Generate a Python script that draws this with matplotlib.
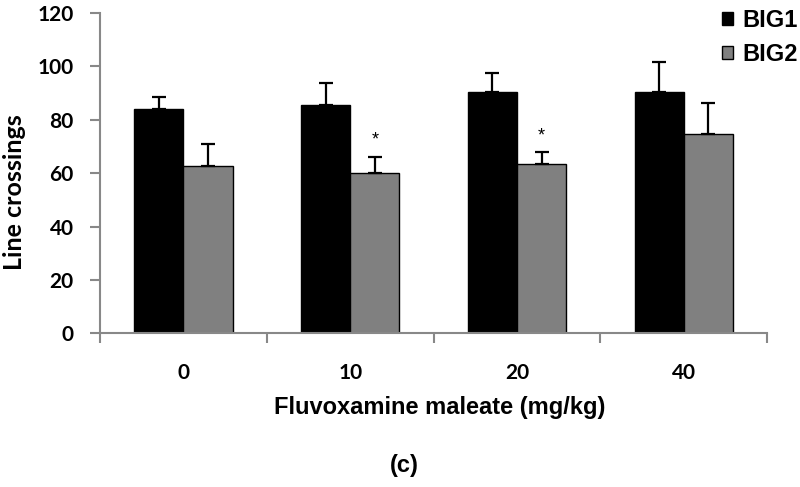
import matplotlib
matplotlib.use("Agg")
import matplotlib.pyplot as plt
import numpy as np

doses = ["0", "10", "20", "40"]
big1 = [84.0, 85.5, 90.3, 90.3]
big1_err = [4.7, 8.2, 7.1, 11.2]
big2 = [62.8, 60.0, 63.4, 74.6]
big2_err = [8.0, 6.2, 4.4, 11.8]
starred = [False, True, True, False]  # significance marks over BIG2

fig = plt.figure(figsize=(8, 4.87), dpi=100)
ax = fig.add_axes([0.125, 0.3154, 0.834, 0.658])

x = np.arange(len(doses))
w = 0.295
ax.bar(x - w / 2, big1, w, color="black", edgecolor="black", linewidth=1, label="BIG1")
ax.bar(x + w / 2, big2, w, color="#808080", edgecolor="black", linewidth=1, label="BIG2")
ax.errorbar(x - w / 2, big1, yerr=[np.zeros(4), big1_err], fmt="none", ecolor="black",
            elinewidth=1.6, capsize=5, capthick=1.6)
ax.errorbar(x + w / 2, big2, yerr=[np.zeros(4), big2_err], fmt="none", ecolor="black",
            elinewidth=1.6, capsize=5, capthick=1.6)

for i in range(len(doses)):
    if starred[i]:
        ax.text(x[i] + w / 2, big2[i] + big2_err[i] + 3, "*", ha="center", va="bottom",
                fontsize=13, family="Liberation Sans")

ax.set_xlim(-0.5, len(doses) - 0.5)
ax.set_ylim(0, 120)
ax.set_yticks(range(0, 121, 20))
ax.set_yticklabels([str(v) for v in range(0, 121, 20)], family="Lato", weight="bold", fontsize=15)

# category boundaries get the ticks, labels sit at the centres
ax.set_xticks(np.arange(-0.5, len(doses), 1))
ax.set_xticklabels([])
ax.set_xticks(x, minor=True)
ax.set_xticklabels(doses, minor=True, family="Lato", weight="bold", fontsize=15)
ax.tick_params(axis="x", which="minor", length=0, pad=21)
ax.tick_params(axis="x", which="major", length=7, width=1.5, color="#888888")
ax.tick_params(axis="y", length=7, width=1.5, color="#888888", pad=12)

for s in ["top", "right"]:
    ax.spines[s].set_visible(False)
for s in ["left", "bottom"]:
    ax.spines[s].set_color("#888888")
    ax.spines[s].set_linewidth(1.5)

ax.set_ylabel("Line crossings", family="Lato", weight="bold", fontsize=18)
ax.yaxis.set_label_coords(-0.111, 0.44)
fig.text(0.55, 0.163, "Fluvoxamine maleate (mg/kg)", ha="center", va="center",
         family=["Liberation Sans Narrow", "Liberation Sans"], weight="bold", fontsize=17)
fig.text(0.506, 0.045, "(c)", ha="center", va="center",
         family=["Liberation Sans Narrow", "Liberation Sans"], weight="bold", fontsize=17)

fig.legend(loc="upper left", bbox_to_anchor=(0.882, 1.015), frameon=False,
           prop={"family": "Liberation Sans", "weight": "bold", "size": 17},
           handlelength=0.45, handleheight=0.45, handletextpad=0.4, labelspacing=0.45,
           borderpad=0.2)

fig.savefig("out.png", dpi=100)
